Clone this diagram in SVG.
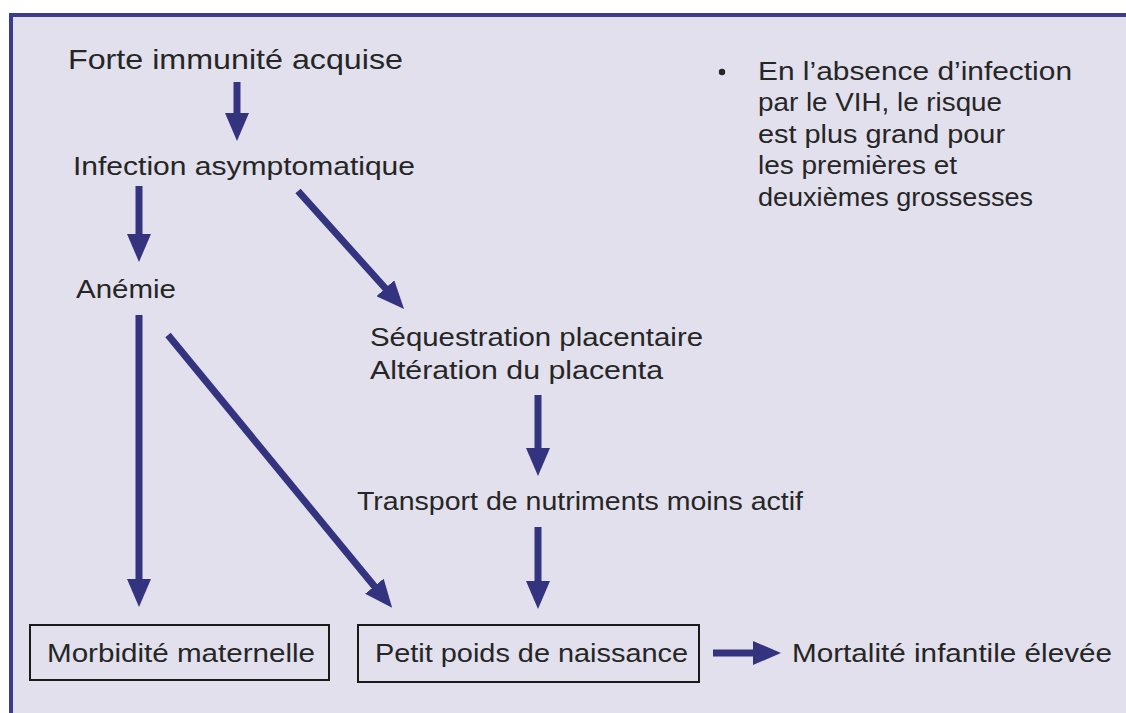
<svg xmlns="http://www.w3.org/2000/svg" width="1126" height="713" viewBox="0 0 1126 713">
<style>
  .t { font-family: "Liberation Sans", Arial, sans-serif; fill: #262626; font-size: 25px; }
  .big { font-size: 28px; }
  .box { fill: none; stroke: #1a1a1a; stroke-width: 2; }
  .arr { stroke: #34337f; stroke-width: 7; fill: none; marker-end: url(#ah); }
</style>
<defs>
  <marker id="ah" markerUnits="userSpaceOnUse" viewBox="0 -12 28 24" refX="1" refY="0" markerWidth="28" markerHeight="24" orient="auto">
    <path d="M0,-12 L28,0 L0,12 z" fill="#34337f"/>
  </marker>
</defs>
<rect x="0" y="0" width="1126" height="713" fill="#ffffff"/>
<rect x="11" y="15" width="1200" height="800" fill="#e1e0ec" stroke="#3c3b8c" stroke-width="4"/>

<g id="connectors">
  <line class="arr" x1="237" y1="82" x2="237" y2="114"/>
  <line class="arr" x1="139" y1="186" x2="139" y2="235"/>
  <line class="arr" x1="298" y1="191" x2="386" y2="289"/>
  <line class="arr" x1="139" y1="315" x2="139" y2="580"/>
  <line class="arr" x1="168" y1="335" x2="375" y2="587"/>
  <line class="arr" x1="538" y1="395" x2="538" y2="449"/>
  <line class="arr" x1="538" y1="527" x2="538" y2="582"/>
  <line class="arr" x1="713" y1="653" x2="754" y2="653"/>
</g>

<g id="n-forte">
  <text class="t big" x="68" y="69" textLength="335" lengthAdjust="spacingAndGlyphs">Forte immunité acquise</text>
</g>
<g id="n-infection">
  <text class="t" x="73" y="175" textLength="342" lengthAdjust="spacingAndGlyphs">Infection asymptomatique</text>
</g>
<g id="n-anemie">
  <text class="t" x="76" y="298" textLength="100" lengthAdjust="spacingAndGlyphs">Anémie</text>
</g>
<g id="n-sequestration">
  <text class="t" x="370" y="346" textLength="333" lengthAdjust="spacingAndGlyphs">Séquestration placentaire</text>
  <text class="t" x="370" y="379" textLength="293" lengthAdjust="spacingAndGlyphs">Altération du placenta</text>
</g>
<g id="n-transport">
  <text class="t" x="357" y="510" textLength="446" lengthAdjust="spacingAndGlyphs">Transport de nutriments moins actif</text>
</g>
<g id="n-morbidite">
  <rect class="box" x="30" y="625" width="299" height="55"/>
  <text class="t" x="47" y="662" textLength="268" lengthAdjust="spacingAndGlyphs">Morbidité maternelle</text>
</g>
<g id="n-poids">
  <rect class="box" x="358" y="625" width="341" height="57"/>
  <text class="t" x="375" y="662" textLength="313" lengthAdjust="spacingAndGlyphs">Petit poids de naissance</text>
</g>
<g id="n-mortalite">
  <text class="t" x="792" y="662" textLength="320" lengthAdjust="spacingAndGlyphs">Mortalité infantile élevée</text>
</g>
<g id="n-note">
  <circle cx="722" cy="72" r="3.2" fill="#262626"/>
  <text class="t" x="758" y="80" textLength="314" lengthAdjust="spacingAndGlyphs">En l’absence d’infection</text>
  <text class="t" x="758" y="111" textLength="244" lengthAdjust="spacingAndGlyphs">par le VIH, le risque</text>
  <text class="t" x="758" y="143" textLength="247" lengthAdjust="spacingAndGlyphs">est plus grand pour</text>
  <text class="t" x="758" y="174" textLength="199" lengthAdjust="spacingAndGlyphs">les premières et</text>
  <text class="t" x="758" y="206" textLength="275" lengthAdjust="spacingAndGlyphs">deuxièmes grossesses</text>
</g>
</svg>
